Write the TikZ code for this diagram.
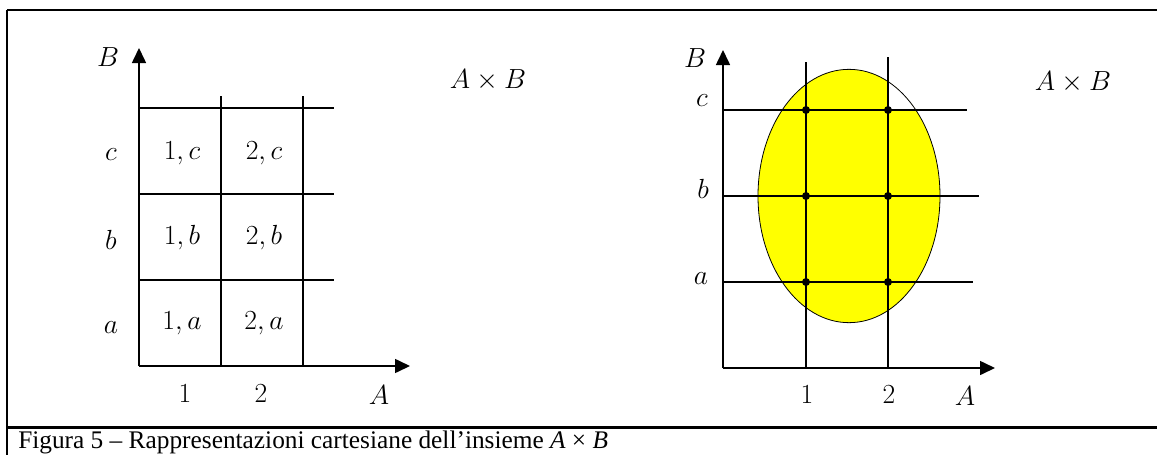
\documentclass[tikz,border=0pt]{standalone}
\usepackage{fontspec}
\setmainfont{Liberation Serif}
\usepackage{xcolor}
\definecolor{giallo}{RGB}{255, 255, 0}
\usetikzlibrary{arrows.meta}

\begin{document}
\begin{tikzpicture}[
  x=0.75pt, y=-0.75pt,
  asse/.style={-{Triangle[length=11.25pt, width=10.5pt]}, line width=1.2pt},
  griglia/.style={line width=1.1pt},
  cornice/.style={line width=1.8pt},
  etichetta/.style={font=\fontsize{21}{24}\selectfont, inner sep=0pt},
  punto/.style={circle, fill=black, inner sep=0pt, minimum size=6pt},
  didascalia/.style={font=\fontsize{19}{23}\selectfont, inner sep=0pt, anchor=base west},
]

% Sfondo e riquadro
\useasboundingbox (0,0) rectangle (1157,454);
\fill[white] (0,0) rectangle (1157,454);
\draw[cornice] (7,10) -- (1160,10);
\draw[cornice] (7,10) -- (7,460);
\draw[cornice] (7,427.5) -- (1160,427.5);

% Diagramma a sinistra: griglia delle coppie
\coordinate (O1) at (139,366);
\foreach \y in {108,194,280}
  \draw[griglia] (O1 |- 0,\y) -- (334,\y);
\foreach \x in {221,303}
  \draw[griglia] (\x,366) -- (\x,96);
\draw[asse] (O1) -- (139,48);
\draw[asse] (O1) -- (410,366);

\node[etichetta] (B1) at (108,57) {$B$};
\node[etichetta] (A1) at (379,395) {$A$};
\node[etichetta] (n1) at (185,394) {$1$};
\node[etichetta] (n2) at (261,394) {$2$};
\node[etichetta] (lc) at (111,155) {$c$};
\node[etichetta] (lb) at (111,240) {$b$};
\node[etichetta] (la) at (111,328) {$a$};
\foreach \n/\x in {1/182,2/264}
  \foreach \l/\y in {c/153,b/238,a/323}
    \node[etichetta] (cella-\n-\l) at (\x,\y) {$\n,\l$};
\node[etichetta] (prod1) at (488,80) {$A\times B$};

% Diagramma a destra: ellisse e punti
\coordinate (O2) at (723,368);
\coordinate (centro) at (849,196);
\fill[giallo] (centro) ellipse [x radius=68.25pt, y radius=95pt];
\begin{scope}
  \clip (888,0) rectangle (1000,110);
  \fill[white] (centro) ellipse [x radius=68.25pt, y radius=95pt];
\end{scope}
\draw[line width=0.6pt] (centro) ellipse [x radius=68.25pt, y radius=95pt];

\draw[griglia] (806,368) -- (806,62);
\draw[griglia] (888,368) -- (888,57);
\draw[griglia] (723,110) -- (967,110);
\draw[griglia] (723,196) -- (979,196);
\draw[griglia] (723,282) -- (973,282);
\draw[asse] (O2) -- (723,50);
\draw[asse] (O2) -- (995,368);

\foreach \n/\x in {1/806,2/888}
  \foreach \l/\y in {c/110,b/196,a/282}
    \node[punto] (p-\n-\l) at (\x,\y) {};

\node[etichetta] (B2) at (695,58) {$B$};
\node[etichetta] (A2) at (965,396) {$A$};
\node[etichetta] (m1) at (807,395) {$1$};
\node[etichetta] (m2) at (889,395) {$2$};
\node[etichetta] (rc) at (702,101) {$c$};
\node[etichetta] (rb) at (703,189) {$b$};
\node[etichetta] (ra) at (701,279) {$a$};
\node[etichetta] (prod2) at (1073,82) {$A\times B$};

% Didascalia
\node[didascalia] (cap) at (18,448.5) {Figura 5 – Rappresentazioni cartesiane dell’insieme \textit{A} × \textit{B}};

\end{tikzpicture}
\end{document}
